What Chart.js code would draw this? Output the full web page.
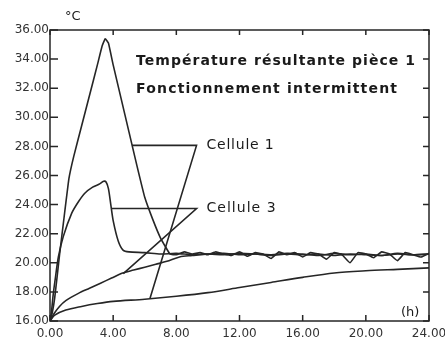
<!DOCTYPE html>
<html>
<head>
<meta charset="utf-8">
<script src="https://cdn.jsdelivr.net/npm/chart.js@4/dist/chart.umd.min.js"></script>
<style>
  html, body { margin: 0; padding: 0; background: #fff; }
  #wrap { width: 445px; height: 339px; position: relative; }
</style>
</head>
<body>
<div id="wrap"><canvas id="chart"></canvas></div>
<script>
// Cellule 1, big peak (intermittent heating)
const HOURS_A = [0, 0.15, 0.3, 0.6, 0.9, 1.2, 1.5, 2.0, 2.5, 3.0, 3.3, 3.5, 3.7, 4.0, 4.5, 5.0, 5.5, 6.0, 6.5, 7.0, 7.6,
    8, 8.5, 9, 9.5, 10, 10.5, 11, 11.5, 12, 12.5, 13, 13.5, 14, 14.5, 15, 15.5, 16, 16.5, 17, 17.5,
    18, 18.5, 19, 19.5, 20, 20.5, 21, 21.5, 22, 22.5, 23, 23.5, 24];
const TEMP_A = [16.0, 16.6, 17.6, 20.5, 23.2, 25.8, 27.3, 29.4, 31.5, 33.6, 34.9, 35.4, 35.1, 33.6, 31.3, 29.0, 26.7, 24.5, 23.0, 21.7, 20.6,
    20.55, 20.75, 20.6, 20.7, 20.55, 20.75, 20.6, 20.5, 20.75, 20.45, 20.7, 20.6, 20.3, 20.75, 20.55, 20.7, 20.4, 20.7, 20.6, 20.25,
    20.7, 20.55, 20.0, 20.7, 20.6, 20.35, 20.75, 20.6, 20.15, 20.7, 20.55, 20.4, 20.65];

// Cellule 3, small peak
const HOURS_B = [0, 0.1, 0.2, 0.32, 0.53, 0.84, 1.37, 1.8, 2.22, 2.7, 3.1, 3.4, 3.55, 3.7, 3.85, 4.0, 4.32, 4.64, 5.0,
    6, 7, 8, 9, 10, 11, 12, 13, 14, 15, 16, 17, 18, 19, 20, 21, 22, 23, 24];
const TEMP_B = [16.0, 16.7, 17.8, 18.8, 20.4, 21.8, 23.4, 24.2, 24.8, 25.2, 25.4, 25.6, 25.55, 25.1, 24.0, 22.9, 21.5, 20.85, 20.75,
    20.7, 20.6, 20.65, 20.55, 20.6, 20.65, 20.55, 20.6, 20.5, 20.6, 20.55, 20.6, 20.5, 20.6, 20.55, 20.5, 20.6, 20.55, 20.6];

// Cellule 3, slow rise
const HOURS_C = [0, 0.25, 0.6, 1.0, 1.8, 2.5, 3.2, 3.9, 4.6, 5.3, 6.0, 6.7, 7.4, 8.2, 9.0,
    10, 11, 12, 13, 14, 15, 16, 17, 18, 19, 20, 21, 22, 23, 24];
const TEMP_C = [16.0, 16.5, 17.0, 17.4, 17.9, 18.25, 18.6, 18.95, 19.3, 19.5, 19.7, 19.9, 20.1, 20.4, 20.5,
    20.6, 20.55, 20.65, 20.6, 20.55, 20.65, 20.6, 20.5, 20.65, 20.55, 20.6, 20.5, 20.65, 20.55, 20.6];

// Cellule 1, slowest rise
const HOURS_D = [0, 0.3, 1, 2, 3, 4, 6, 8, 10, 12, 14, 16, 18, 20, 22, 24];
const TEMP_D = [16.0, 16.4, 16.75, 17.0, 17.2, 17.35, 17.5, 17.7, 17.95, 18.3, 18.65, 19.0, 19.3, 19.45, 19.55, 19.65];

// leader lines for the curve labels
const LEADER_1_HOURS = [5.19, 9.28, 6.33];
const LEADER_1_TEMPS = [28.07, 28.07, 17.54];
const LEADER_3_HOURS = [3.9, 9.28, 4.64];
const LEADER_3_TEMPS = [23.73, 23.73, 19.26];

const X_TICK_STEP = 4;
const Y_TICK_STEP = 2;

const INK = '#262626';

const pts = (xs, ys) => xs.map((x, i) => ({ x, y: ys[i] }));

function line(xs, ys, tension = 0.2) {
    return {
        data: pts(xs, ys),
        borderColor: INK,
        borderWidth: 1.6,
        pointRadius: 0,
        tension,
        fill: false,
    };
}

function fitText(ctx, str, px, py, width) {
    ctx.letterSpacing = '0px';
    const w = ctx.measureText(str).width;
    ctx.letterSpacing = ((width - w) / (str.length - 1)) + 'px';
    ctx.fillText(str, px, py);
    ctx.letterSpacing = '0px';
}

const frameAndText = {
    id: 'frameAndText',
    afterDraw(chart) {
        const { ctx, chartArea: a, scales: { x, y } } = chart;
        ctx.save();
        ctx.strokeStyle = INK;
        ctx.lineWidth = 1.5;
        ctx.strokeRect(a.left, a.top, a.right - a.left, a.bottom - a.top);

        ctx.beginPath();
        y.ticks.forEach(t => {
            const py = y.getPixelForValue(t.value);
            ctx.moveTo(a.left, py); ctx.lineTo(a.left + 8, py);
            ctx.moveTo(a.right, py); ctx.lineTo(a.right - 6, py);
        });
        x.ticks.forEach(t => {
            const px = x.getPixelForValue(t.value);
            ctx.moveTo(px, a.bottom); ctx.lineTo(px, a.bottom - 6);
            ctx.moveTo(px, a.top); ctx.lineTo(px, a.top + 5);
        });
        ctx.stroke();

        ctx.fillStyle = '#1a1a1a';
        ctx.textBaseline = 'middle';
        ctx.textAlign = 'left';

        ctx.font = 'bold 14px "DejaVu Sans"';
        fitText(ctx, 'Température résultante pièce 1', 136, 61, 279);
        fitText(ctx, 'Fonctionnement intermittent', 136, 89, 261);

        ctx.font = '14px "DejaVu Sans"';
        const cx = x.getPixelForValue(LEADER_1_HOURS[1]) + 10;
        fitText(ctx, 'Cellule 1', cx, y.getPixelForValue(LEADER_1_TEMPS[1]), 67);
        fitText(ctx, 'Cellule 3', cx, y.getPixelForValue(LEADER_3_TEMPS[1]), 69);

        ctx.font = '13px "DejaVu Sans"';
        ctx.fillText('°C', 65, 17);
        ctx.fillText('(h)', 401, 313);
        ctx.restore();
    },
};

new Chart(document.getElementById('chart'), {
    type: 'line',
    data: {
        datasets: [
            line(HOURS_A, TEMP_A, 0.1),
            line(HOURS_B, TEMP_B, 0.25),
            line(HOURS_C, TEMP_C, 0.3),
            line(HOURS_D, TEMP_D, 0.3),
            line(LEADER_1_HOURS, LEADER_1_TEMPS, 0),
            line(LEADER_3_HOURS, LEADER_3_TEMPS, 0),
        ],
    },
    options: {
        responsive: true,
        maintainAspectRatio: false,
        animation: false,
        layout: { autoPadding: false, padding: { left: 0, top: 30, right: 16, bottom: 0 } },
        plugins: { legend: { display: false }, tooltip: { enabled: false } },
        scales: {
            x: {
                type: 'linear',
                min: 0, max: 24,
                grid: { display: false, drawTicks: false },
                border: { display: false },
                ticks: {
                    stepSize: X_TICK_STEP,
                    padding: 6,
                    color: '#333',
                    font: { family: 'DejaVu Sans', size: 12 },
                    callback: v => v.toFixed(2),
                },
                afterFit: s => { s.height = 18; s.paddingLeft = 0; s.paddingRight = 0; },
            },
            y: {
                min: 16, max: 36,
                grid: { display: false, drawTicks: false },
                border: { display: false },
                ticks: {
                    stepSize: Y_TICK_STEP,
                    padding: 1,
                    color: '#333',
                    font: { family: 'DejaVu Sans', size: 12 },
                    callback: v => v.toFixed(2),
                },
                afterFit: s => { s.width = 50; s.paddingTop = 0; s.paddingBottom = 0; },
            },
        },
    },
    plugins: [frameAndText],
});
</script>
</body>
</html>
